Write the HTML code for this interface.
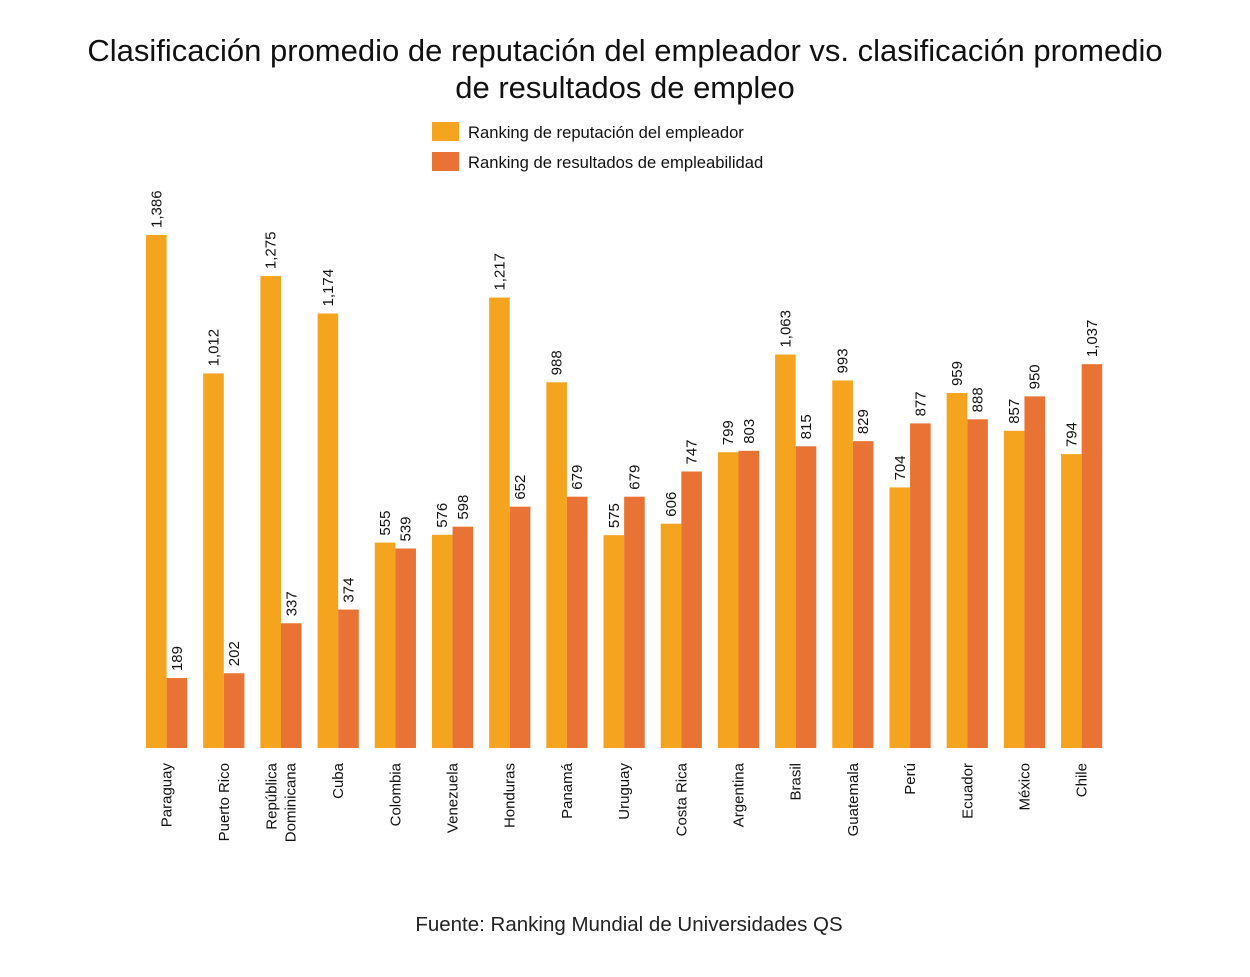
<!DOCTYPE html>
<html><head><meta charset="utf-8">
<style>
body{margin:0;background:#fff;width:1250px;height:972px;overflow:hidden;font-family:"Liberation Sans",sans-serif;}
</style></head>
<body>
<svg id="chart" width="1250" height="972" xmlns="http://www.w3.org/2000/svg" font-family="Liberation Sans, sans-serif">
<text x="625" y="61" text-anchor="middle" font-size="31" fill="#111">Clasificación promedio de reputación del empleador vs. clasificación promedio</text>
<text x="625" y="98" text-anchor="middle" font-size="31" fill="#111">de resultados de empleo</text>
<rect x="432" y="122" width="27" height="19" fill="#F4A41F"/>
<text x="468" y="138" font-size="16.6" fill="#111">Ranking de reputación del empleador</text>
<rect x="432" y="152" width="27" height="19" fill="#E97334"/>
<text x="468" y="168" font-size="16.6" fill="#111">Ranking de resultados de empleabilidad</text>
<g id="bars"></g>
<text x="629" y="931" text-anchor="middle" font-size="20.5" fill="#222">Fuente: Ranking Mundial de Universidades QS</text>
</svg>
<script>
const categories = ["Paraguay","Puerto Rico","República|Dominicana","Cuba","Colombia","Venezuela","Honduras","Panamá","Uruguay","Costa Rica","Argentina","Brasil","Guatemala","Perú","Ecuador","México","Chile"];
const reputacion = [1386,1012,1275,1174,555,576,1217,988,575,606,799,1063,993,704,959,857,794];
const resultados = [189,202,337,374,539,598,652,679,679,747,803,815,829,877,888,950,1037];

const NS="http://www.w3.org/2000/svg";
const g=document.getElementById('bars');
const baseY=748, scale=513/1386, x0=146, step=57.19, bw=20.6;
const yPos=v=>baseY-v*scale;
const xPos=i=>x0+i*step;
const fmt=v=>v.toLocaleString('en-US');
function mk(tag,attrs){const e=document.createElementNS(NS,tag);for(const k in attrs)e.setAttribute(k,attrs[k]);g.appendChild(e);return e;}
function bar(x,v,color,name){
  const r=mk('rect',{x:x,y:yPos(v),width:bw,height:v*scale,fill:color});
  
  
  const cx=x+bw/2+5, ty=yPos(v)-7;
  const t=mk('text',{x:cx,y:ty,transform:`rotate(-90 ${cx} ${ty})`,'font-size':15,fill:'#111'});
  t.textContent=fmt(v);
  
  
}
categories.forEach((c,i)=>{
  const x=xPos(i);
  bar(x,reputacion[i],'#F4A41F','bar-reputacion-'+i);
  bar(x+bw,resultados[i],'#E97334','bar-resultados-'+i);
  const lines=c.split('|');
  const cx=x+bw;
  lines.forEach((ln,j)=>{
    const lx=cx+5+(j-(lines.length-1)/2)*19, ly=763;
    const t=mk('text',{x:lx,y:ly,transform:`rotate(-90 ${lx} ${ly})`,'font-size':15,fill:'#111','text-anchor':'end'});
    t.textContent=ln;
    
    
  });
});
</script>
</body></html>
